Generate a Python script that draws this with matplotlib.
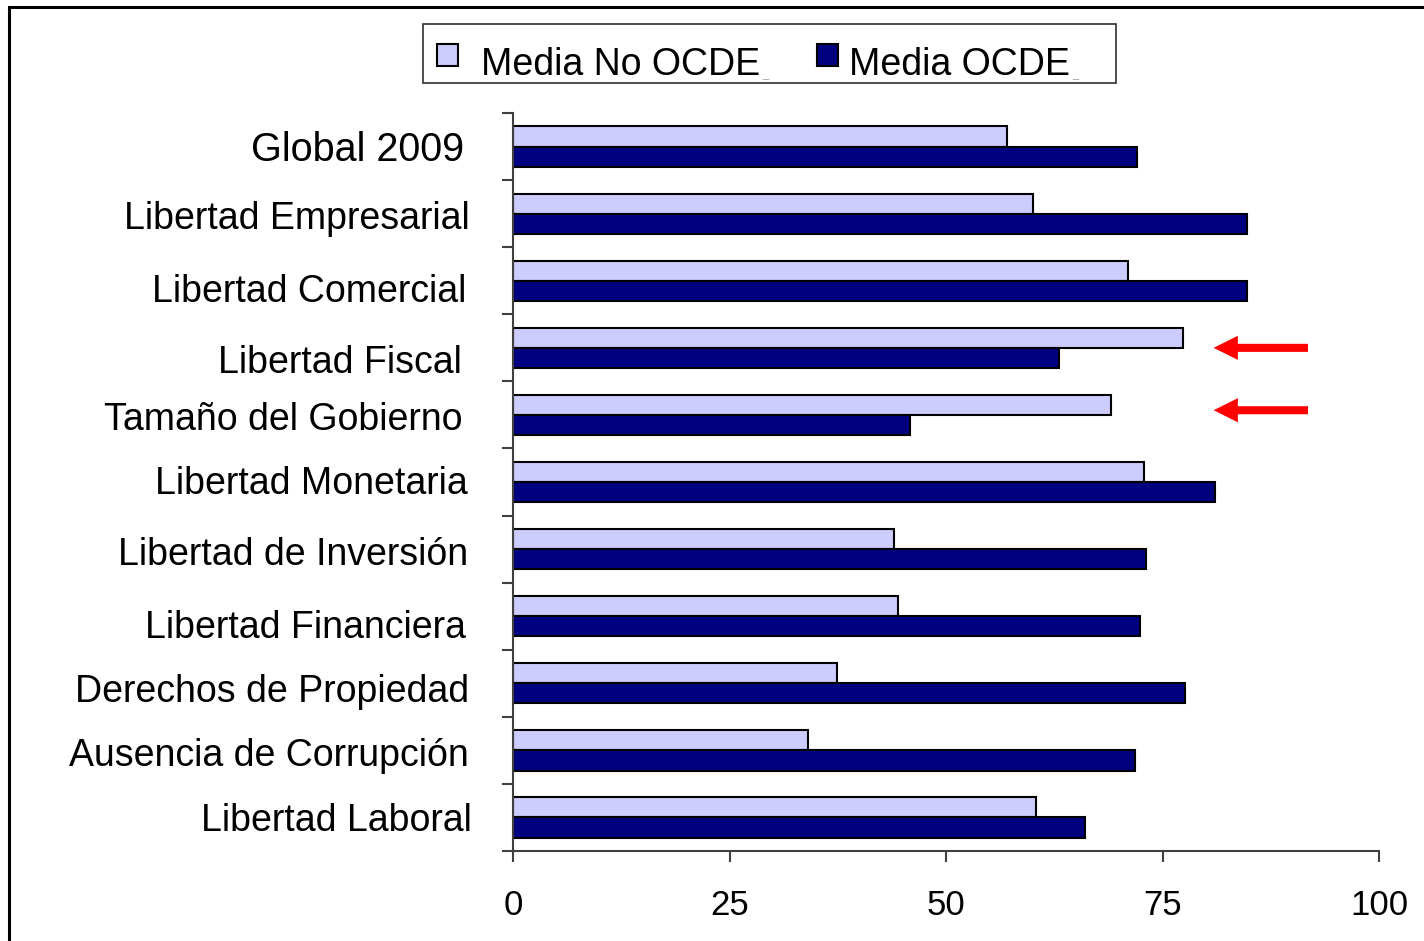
import numpy as np
import matplotlib
matplotlib.use("Agg")
import matplotlib.pyplot as plt
from matplotlib.patches import Rectangle
from matplotlib.transforms import ScaledTranslation

plt.rcParams['font.family'] = ['Liberation Sans', 'DejaVu Sans']

categorias = ['Global 2009', 'Libertad Empresarial', 'Libertad Comercial',
              'Libertad Fiscal', 'Tamaño del Gobierno', 'Libertad Monetaria',
              'Libertad de Inversión', 'Libertad Financiera',
              'Derechos de Propiedad', 'Ausencia de Corrupción', 'Libertad Laboral']
media_no_ocde = [57.0, 60.0, 71.0, 77.4, 69.1, 72.9, 44.0, 44.5, 37.4, 34.1, 60.4]
media_ocde = [72.1, 84.8, 84.8, 63.0, 45.8, 81.1, 73.1, 72.4, 77.6, 71.8, 66.1]
series = ['Media No OCDE', 'Media OCDE']
colores = ['#CCCCFF', '#000080']
x_ticks = [0, 25, 50, 75, 100]
destacadas = ['Libertad Fiscal', 'Tamaño del Gobierno']

W, H = 1424, 941
fig = plt.figure(figsize=(W / 100, H / 100), dpi=100)
ax = fig.add_axes([0.3603, 0.0956, 0.6081, 0.7843])


def px(x, y):
    # pixel position from the top-left corner -> figure fraction
    return x / W, 1 - y / H


y = np.arange(len(categorias))
h = 0.3
ax.barh(y - h / 2, media_no_ocde, height=h, color=colores[0], edgecolor='black',
        linewidth=1.5)
ax.barh(y + h / 2, media_ocde, height=h, color=colores[1], edgecolor='black',
        linewidth=1.5)

ax.set_xlim(0, 100)
ax.set_ylim(len(categorias) - 0.5, -0.5)

ax.set_xticks(x_ticks)
ax.set_xticklabels([str(t) for t in x_ticks], fontsize=25)
ax.tick_params(axis='x', length=8, width=1.5, color='#404040', pad=19)

# labels on the category centres, tick marks on the boundaries
ax.set_yticks(y)
ax.set_yticklabels(categorias, fontsize=27)
ax.tick_params(axis='y', which='major', length=0, pad=33)
ax.set_yticks(np.arange(len(categorias) + 1) - 0.5, minor=True)
ax.tick_params(axis='y', which='minor', length=8, width=1.5, color='#404040')

# small hand-placed nudges of the row labels (pixels: right, down)
nudges = [(-3, -1), (3, 1), (-1, 7), (-5, 11), (-5, 1), (1, -2),
          (1, 2), (-1, 8), (2, 5), (2, 2), (5, 0)]
labels = ax.get_yticklabels()
labels[0].set_fontsize(28.5)
for lbl, (dx, dy) in zip(labels, nudges):
    lbl.set_transform(lbl.get_transform()
                      + ScaledTranslation(dx / 100, -dy / 100, fig.dpi_scale_trans))

for s in ['top', 'right']:
    ax.spines[s].set_visible(False)
for s in ['left', 'bottom']:
    ax.spines[s].set_color('#404040')
    ax.spines[s].set_linewidth(1.5)

# red arrows pointing at the two highlighted rows
for nombre, dy in zip(destacadas, [0.0, -0.07]):
    i = categorias.index(nombre)
    ax.arrow(91.8, i + dy, -10.9, 0, width=0.12, head_width=0.36,
             head_length=2.8, length_includes_head=True, color='red',
             linewidth=0, clip_on=False)

# legend box drawn by hand
x0, y0 = px(423, 83)
x1, y1 = px(1116, 24)
fig.patches.append(Rectangle((x0, y0), x1 - x0, y1 - y0, transform=fig.transFigure,
                             fill=False, edgecolor='#303030', linewidth=1.2))
for nombre, color, hx, tx in zip(series, colores, [437, 817], [481, 849]):
    a, b = px(hx, 66)
    c, d = px(hx + 21, 44)
    fig.patches.append(Rectangle((a, b), c - a, d - b, transform=fig.transFigure,
                                 facecolor=color, edgecolor='black', linewidth=1.5))
    t = fig.text(*px(tx, 75), nombre, fontsize=27, va='baseline')
    fig.canvas.draw()
    bb = t.get_window_extent()
    fig.text(bb.x1 / W + 2 / W, 1 - 78 / H, '_', fontsize=8, color='#999999')

# outer frame, cut by the right and bottom edges
fig.patches.append(Rectangle((9 / W, -0.2), 1.2, 1.2 - 7 / H,
                             transform=fig.transFigure, fill=False,
                             edgecolor='black', linewidth=2.2))

fig.savefig('out.png', dpi=100)
